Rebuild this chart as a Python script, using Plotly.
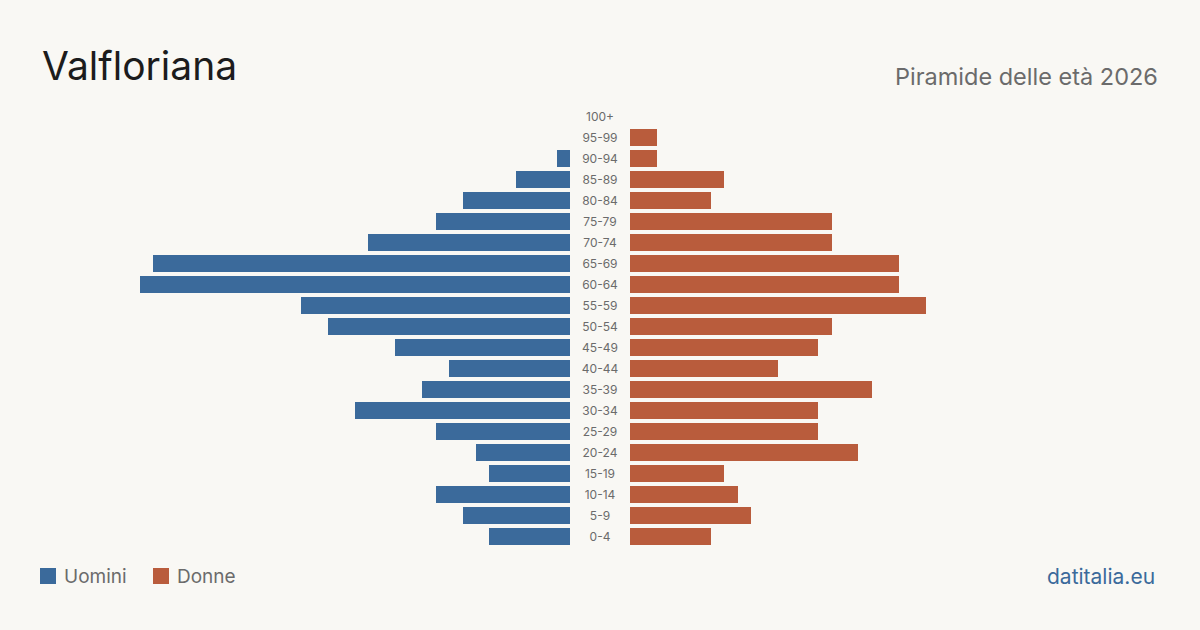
import plotly.graph_objects as go

age_groups = ["0-4", "5-9", "10-14", "15-19", "20-24", "25-29", "30-34", "35-39",
              "40-44", "45-49", "50-54", "55-59", "60-64", "65-69", "70-74", "75-79",
              "80-84", "85-89", "90-94", "95-99", "100+"]
men = [6, 8, 10, 6, 7, 10, 16, 11, 9, 13, 18, 20, 32, 31, 15, 10, 8, 4, 1, 0, 0]
women = [6, 9, 8, 7, 17, 14, 14, 18, 11, 14, 15, 22, 20, 20, 15, 15, 6, 7, 2, 2, 0]

title = "Valfloriana"
subtitle = "Piramide delle età 2026"
source = "datitalia.eu"
legend_labels = ["Uomini", "Donne"]

BLUE = "#3b6a9b"
ORANGE = "#b95c3c"
BG = "#f9f8f4"
GRAY = "#6b6b6b"
FONT = "Inter"

W, H = 1200, 630
xmax = 32


def py(p):
    return 1 - p / H


fig = go.Figure()
fig.add_trace(go.Bar(y=age_groups, x=men, orientation="h", marker_color=BLUE,
                     marker_line_width=0,
                     xaxis="x", yaxis="y", width=0.8, hoverinfo="x+y", showlegend=False))
fig.add_trace(go.Bar(y=age_groups, x=women, orientation="h", marker_color=ORANGE,
                     marker_line_width=0,
                     xaxis="x2", yaxis="y", width=0.8, hoverinfo="x+y", showlegend=False))
fig.add_trace(go.Scatter(y=age_groups, x=[0.5] * len(age_groups), mode="text",
                         text=age_groups, textposition="middle center",
                         textfont=dict(size=12, color=GRAY, family=FONT),
                         xaxis="x3", yaxis="y2", hoverinfo="skip", showlegend=False))

fig.update_layout(
    width=W, height=H,
    paper_bgcolor=BG, plot_bgcolor=BG,
    margin=dict(l=0, r=0, t=0, b=0),
    font=dict(family=FONT, color=GRAY),
    bargap=0,
    xaxis=dict(domain=[140 / W, 570 / W], range=[xmax, 0], visible=False, fixedrange=True),
    xaxis2=dict(domain=[630 / W, 1060 / W], range=[0, xmax], visible=False, fixedrange=True),
    xaxis3=dict(domain=[570 / W, 630 / W], range=[0, 1], visible=False, fixedrange=True),
    yaxis=dict(categoryorder="array", categoryarray=age_groups, range=[-0.5, 20.5],
               domain=[py(547), py(106)], visible=False, fixedrange=True),
    yaxis2=dict(categoryorder="array", categoryarray=age_groups, range=[-0.5, 20.5],
                domain=[py(548.5), py(107.5)], visible=False, fixedrange=True),
    annotations=[
        dict(text=title, x=40 / W, y=py(66), xref="paper", yref="paper",
             xanchor="left", yanchor="middle", showarrow=False,
             font=dict(size=39, color="#1c1c1c", family=FONT)),
        dict(text=subtitle, x=1160 / W, y=py(76), xref="paper", yref="paper",
             xanchor="right", yanchor="middle", showarrow=False,
             font=dict(size=23.5, color=GRAY, family=FONT)),
        dict(text=source, x=1157 / W, y=py(576), xref="paper", yref="paper",
             xanchor="right", yanchor="middle", showarrow=False,
             font=dict(size=21, color=BLUE, family=FONT)),
        dict(text=legend_labels[0], x=62 / W, y=py(576), xref="paper", yref="paper",
             xanchor="left", yanchor="middle", showarrow=False,
             font=dict(size=19, color=GRAY, family=FONT)),
        dict(text=legend_labels[1], x=175 / W, y=py(576), xref="paper", yref="paper",
             xanchor="left", yanchor="middle", showarrow=False,
             font=dict(size=19, color=GRAY, family=FONT)),
    ],
    shapes=[
        dict(type="rect", xref="paper", yref="paper", x0=40 / W, x1=56 / W,
             y0=py(584), y1=py(568), fillcolor=BLUE, line_width=0),
        dict(type="rect", xref="paper", yref="paper", x0=153 / W, x1=169 / W,
             y0=py(584), y1=py(568), fillcolor=ORANGE, line_width=0),
    ],
)

fig.write_html("out.html", config={"displayModeBar": False})
